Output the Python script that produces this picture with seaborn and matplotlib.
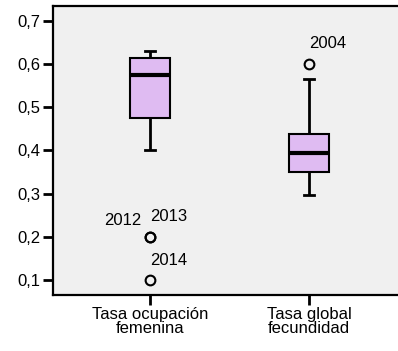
import numpy as np
import pandas as pd
import matplotlib
matplotlib.use('Agg')
import matplotlib.pyplot as plt
import seaborn as sns

years = list(range(2000, 2015))
tasa_ocupacion = [0.40, 0.55, 0.56, 0.57, 0.575, 0.58, 0.60, 0.61, 0.618, 0.62, 0.625, 0.63, 0.20, 0.20, 0.10]
tasa_fecundidad = [0.43, 0.445, 0.48, 0.565, 0.60, 0.42, 0.40, 0.395, 0.385, 0.37, 0.355, 0.345, 0.34, 0.32, 0.296]
categorias = ['Tasa ocupación\nfemenina', 'Tasa global\nfecundidad']
yticks = [0.1, 0.2, 0.3, 0.4, 0.5, 0.6, 0.7]

df = pd.DataFrame({'year': years * 2,
                   'variable': [categorias[0]] * len(years) + [categorias[1]] * len(years),
                   'valor': tasa_ocupacion + tasa_fecundidad})

plt.rcParams['font.family'] = ['Liberation Sans', 'DejaVu Sans']

fig = plt.figure(figsize=(3.98, 3.51), dpi=100)
ax = fig.add_axes([53 / 398, 1 - 295 / 351, 1 - 53 / 398, 289 / 351])
ax.set_facecolor('#F0F0F0')

sns.boxplot(data=df, x='variable', y='valor', order=categorias, ax=ax, width=0.25,
            color='#DFBBF2', saturation=1, linecolor='black', linewidth=1.5,
            capwidths=0.065,
            flierprops={'marker': 'o', 'markersize': 7, 'markerfacecolor': 'none',
                        'markeredgecolor': 'black', 'markeredgewidth': 1.5},
            medianprops={'linewidth': 3, 'color': 'black'},
            whiskerprops={'linewidth': 2}, capprops={'linewidth': 2})

# etiquetas de los valores atípicos
q = {}
for i, vals in enumerate([tasa_ocupacion, tasa_fecundidad]):
    v = np.array(vals)
    q1, q3 = np.percentile(v, [25, 75])
    iqr = q3 - q1
    for yr, val in zip(years, vals):
        if val < q1 - 1.5 * iqr or val > q3 + 1.5 * iqr:
            q.setdefault((i, val), []).append(yr)

for (i, val), yrs in q.items():
    ax.annotate(str(yrs[-1]), (i, val), xytext=(0, 9), textcoords='offset points',
                ha='left', va='bottom', fontsize=12)
    for yr in yrs[:-1]:
        ax.annotate(str(yr), (i, val), xytext=(-6, 6), textcoords='offset points',
                    ha='right', va='bottom', fontsize=12)

ax.set_xlim(-0.61, 1.56)
ax.set_ylim(0.0654, 0.734)
ax.set_yticks(yticks)
ax.set_yticklabels([f'{t:.1f}'.replace('.', ',') for t in yticks])
ax.set_xlabel('')
ax.set_ylabel('')
ax.spines['right'].set_visible(False)
for s in ['left', 'bottom', 'top']:
    ax.spines[s].set_linewidth(1.6)
ax.tick_params(axis='both', length=7, width=2, labelsize=12, pad=2)
for lab in ax.get_xticklabels():
    lab.set_linespacing(0.85)

fig.savefig('out.png', dpi=100)
